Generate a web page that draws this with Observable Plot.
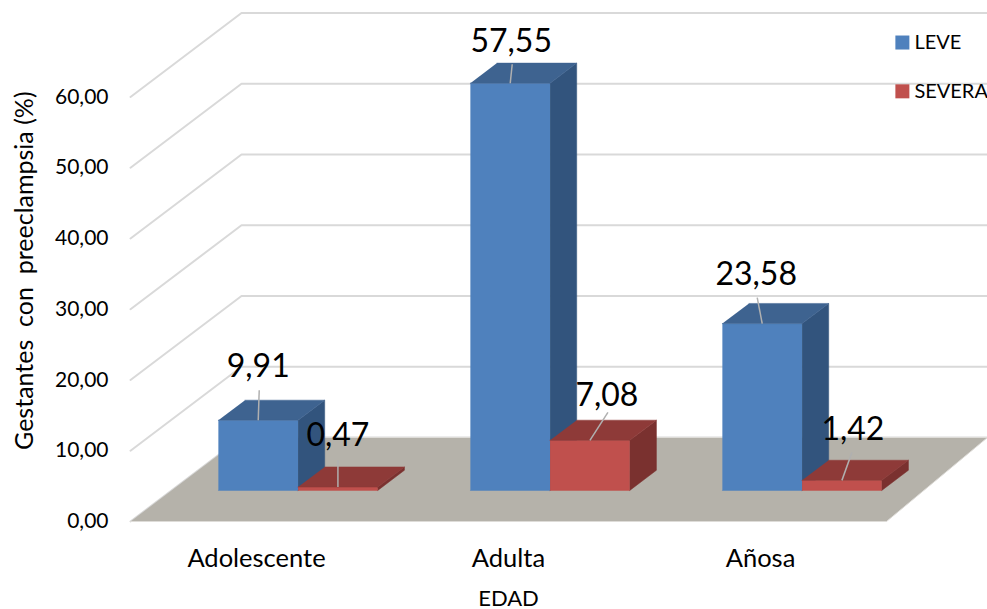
<!DOCTYPE html>
<html>
<head>
<meta charset="utf-8">
<script src="https://cdn.jsdelivr.net/npm/d3@7"></script>
<script src="https://cdn.jsdelivr.net/npm/@observablehq/plot@0.6"></script>
<style>
html,body{margin:0;padding:0;background:#fff;overflow:hidden}
svg{display:block}
</style>
</head>
<body>
<div id="chart"></div>
<script>
const categories = ["Adolescente", "Adulta", "Añosa"];
const leve = [9.91, 57.55, 23.58];
const severa = [0.47, 7.08, 1.42];
const seriesNames = ["LEVE", "SEVERA"];
const yTicks = [0, 10, 20, 30, 40, 50, 60];

const pxX = 3 / 756;            // band units per pixel
const pxY = 1 / 7.075;          // value units per pixel
const depthX = 111 * pxX;       // shear of the z axis
const depthY = 84 * pxY;
const barOffset = 46.8 * pxX, barWidth = 79.7 * pxX;
const z0 = 0.37, z1 = 0.61;
const fmt = v => v.toFixed(2).replace(".", ",");
const project = (x, v, z) => ({x: x + z * depthX, y: v + z * depthY});

const palette = {
  LEVE: {front: "#4f81bd", top: "#3e6390", side: "#32547d"},
  SEVERA: {front: "#c0504d", top: "#8e3a38", side: "#7a312f"}
};
// label displacement from the bar's top-front midpoint, in pixels [dx, dy]
const leaderShift = {
  LEVE: [[1, -30], [2, -19], [-5, -26]],
  SEVERA: [[0, -27], [18, -28], [10, -28]]
};
const labelGap = {LEVE: [[0, -54], [1, -42], [-6, -49]], SEVERA: [[0, -51], [17, -45], [11, -51]]};

const polys = [];
const addPoly = (id, color, pts) => pts.forEach(([x, v, z]) => polys.push({id, color, ...project(x, v, z)}));

// floor
const floor = [[0, 0, 0], [3, 0, 0], [3 - 10 * pxX, 0, 1], [0, 0, 1]];

// grid
const grid = yTicks.flatMap(v => [[0, v, 0], [0, v, 1], [3, v, 1]].map(([x, u, z]) => ({v, ...project(x, u, z)})));

const leaders = [], labels = [];
const addBar = (name, i, slot, value) => {
  const c = palette[name], x0 = i + barOffset + slot * barWidth, x1 = x0 + barWidth, id = name + i;
  addPoly(id + "front", c.front, [[x0, 0, z0], [x1, 0, z0], [x1, value, z0], [x0, value, z0]]);
  addPoly(id + "side", c.side, [[x1, 0, z0], [x1, 0, z1], [x1, value, z1], [x1, value, z0]]);
  addPoly(id + "top", c.top, [[x0, value, z0], [x1, value, z0], [x1, value, z1], [x0, value, z1]]);
  const a = project((x0 + x1) / 2, value, z0);
  const [lx, ly] = leaderShift[name][i], [tx, ty] = labelGap[name][i];
  leaders.push({x1: a.x, y1: a.y, x2: a.x + lx * pxX, y2: a.y - ly * pxY});
  labels.push({x: a.x + tx * pxX, y: a.y - ty * pxY, text: fmt(value)});
};
categories.forEach((_, i) => { addBar("LEVE", i, 0, leve[i]); addBar("SEVERA", i, 1, severa[i]); });

const floorPts = floor.map(([x, v, z]) => project(x, v, z));
const legendX = 3.063, legendY = [67.7, 60.8];
const legend = seriesNames.map((name, i) => ({name, x: legendX, y: legendY[i], color: palette[name].front}));

const chart = Plot.plot({
  width: 987, height: 609,
  marginLeft: 130, marginRight: 101, marginTop: 13, marginBottom: 88,
  style: {fontFamily: "Lato", background: "#fff", color: "#000"},
  x: {domain: [0, 3], axis: null},
  y: {domain: [0, 508 * pxY], axis: null},
  color: {type: "identity"},
  marks: [
    Plot.line(grid, {x: "x", y: "y", z: "v", stroke: "#d9d9d9", strokeWidth: 2}),
    Plot.line(floorPts, {x: "x", y: "y", fill: "#b5b2aa", stroke: "#dedcd8", strokeWidth: 1}),
    Plot.line(polys, {x: "x", y: "y", z: "id", fill: "color", stroke: "color", strokeWidth: 0.5}),
    Plot.link(leaders, {x1: "x1", y1: "y1", x2: "x2", y2: "y2", stroke: "#b0b0b0", strokeWidth: 1.5}),
    Plot.axisY({ticks: yTicks, tickFormat: fmt, tickSize: 0, tickPadding: 22, fontSize: 21, label: null}),
    Plot.axisY({
      ticks: [], fontSize: 25,
      label: "Gestantes\u00a0\u00a0con\u00a0\u00a0preeclampsia (%)\u00a0", labelAnchor: "center", labelArrow: "none", labelOffset: 115
    }),
    Plot.axisX({
      ticks: categories.map((_, i) => i + 0.5), tickFormat: t => categories[t - 0.5], tickSize: 0, tickPadding: 27, fontSize: 25.5, label: null
    }),
    Plot.axisX({ticks: [], fontSize: 22, label: "EDAD", labelAnchor: "center", labelArrow: "none", labelOffset: 84}),
    Plot.text(labels, {x: "x", y: "y", text: "text", fontSize: 32, fill: "#000"}),
    Plot.dot(legend, {x: "x", y: "y", symbol: "square", r: 7.9, fill: "color", stroke: null}),
    Plot.text(legend, {x: "x", y: "y", text: "name", dx: 12, textAnchor: "start", fontSize: 20, fill: "#000"})
  ]
});
document.getElementById("chart").append(chart);
</script>
</body>
</html>
